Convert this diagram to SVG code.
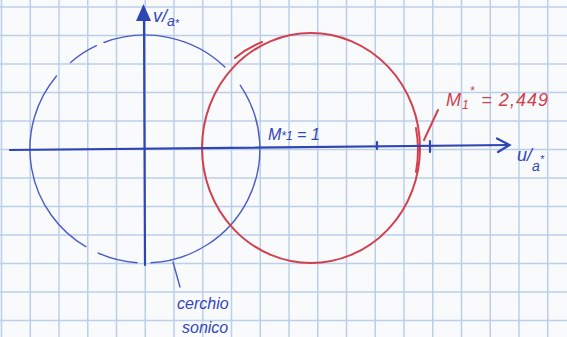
<svg xmlns="http://www.w3.org/2000/svg" width="567" height="337" viewBox="0 0 567 337">
<defs>
<style>
.grid{stroke:#bccfe8;stroke-width:1.5;fill:none}
.axis{stroke:#2f45b5;stroke-width:2.2;fill:none;stroke-linecap:round}
.sonic{stroke:#4a5cc8;stroke-width:1.4;fill:none;stroke-linecap:round}
.red{stroke:#d2404f;stroke-width:2;fill:none;stroke-linecap:round;stroke-linejoin:round}
.bt{fill:#3346bb;font-family:"Liberation Sans",Arial,sans-serif;font-style:italic}
.rt{fill:#d2404f;font-family:"Liberation Sans",Arial,sans-serif;font-style:italic}
</style>
</defs>
<rect width="567" height="337" fill="#f9fafc"/>
<g id="grid" class="grid">
<path d="M1.5,0V337M30.25,0V337M59,0V337M87.75,0V337M116.5,0V337M145.25,0V337M174,0V337M202.75,0V337M231.5,0V337M260.25,0V337M289,0V337M317.75,0V337M346.5,0V337M375.25,0V337M404,0V337M432.75,0V337M461.5,0V337M490.25,0V337M519,0V337M547.75,0V337"/>
<path d="M0,7H567M0,35.5H567M0,64H567M0,92.5H567M0,121H567M0,149.5H567M0,178H567M0,206.5H567M0,235H567M0,263.5H567M0,292H567M0,320.5H567"/>
</g>
<g id="sonic-circle">
<path class="sonic" d="M137,262.7A115 114 0 0 1 98.2,253.1M85.8,246.7A115 114 0 0 1 56.5,76M70.5,62.5A115 114 0 0 1 96.4,45.7M104,42.5A115 114 0 0 1 224.9,67M240.3,85.3A115 114 0 0 1 151,262.8"/>
</g>
<g id="red-circle">
<ellipse class="red" cx="311" cy="148" rx="109" ry="115"/>
<path class="red" d="M235,58Q247,48 262,42M416,128Q420,150 416,172" stroke-width="1.6"/>
</g>
<g id="connectors">
<path class="axis" d="M10,150L509,145"/>
<path class="axis" d="M497,138.5L509.5,145L498,152"/>
<path class="axis" d="M145,265L144,14"/>
<path d="M143.5,4L136,21L151,21Z" fill="#2f45b5"/>
<path class="axis" d="M377,142V149M430,141V152" stroke-width="1.6"/>
<path class="red" d="M438,110L424,140" stroke-width="1.6"/>
<path class="sonic" d="M173,262L180,287" stroke-width="1.6"/>
</g>
<g id="label-v">
<text class="bt" x="153" y="22" font-size="18">v/<tspan font-size="14" dy="4">a</tspan><tspan font-size="11" dy="1">*</tspan></text>
</g>
<g id="label-u">
<text class="bt" x="517" y="161" font-size="18">u/<tspan font-size="14" dy="10">a</tspan><tspan font-size="11" dy="-8">*</tspan></text>
</g>
<g id="label-m1">
<text class="bt" x="268" y="140" font-size="16">M<tspan font-size="12">*1</tspan> = 1</text>
</g>
<g id="label-mstar">
<text class="rt" x="446" y="106" font-size="18" letter-spacing="1">M<tspan font-size="12" dy="3">1</tspan><tspan font-size="12" dy="-14">*</tspan><tspan dy="11"> = 2,449</tspan></text>
</g>
<g id="label-sonic">
<text class="bt" x="177" y="309" font-size="16">cerchio</text>
<text class="bt" x="182" y="333" font-size="16">sonico</text>
</g>
</svg>
